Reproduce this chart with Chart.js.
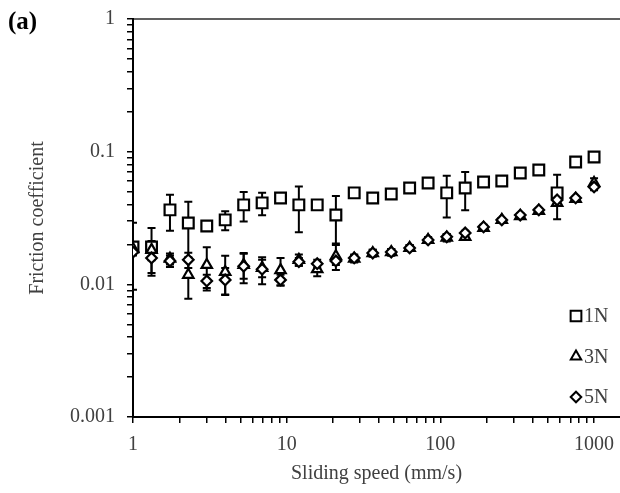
<!DOCTYPE html>
<html>
<head>
<meta charset="utf-8">
<script src="https://cdn.jsdelivr.net/npm/chart.js@4"></script>
<style>
  html, body { margin: 0; padding: 0; background: #fff; }
</style>
</head>
<body>
<canvas id="frictionChart" width="620" height="493"></canvas>
<script>
  // sliding speeds (mm/s)
  const speeds = [1, 1.32, 1.74, 2.29, 3.02, 3.98, 5.25, 6.92, 9.12, 12.0, 15.8, 20.9, 27.5,
                  36.3, 47.9, 63.1, 83.2, 110, 145, 191, 251, 331, 437, 575, 759, 1000];

  // friction coefficient, 1N load
  const cof1N = [0.0191, 0.0191, 0.0364, 0.0290, 0.0275, 0.0306, 0.0397, 0.0411, 0.0448, 0.0397, 0.0397, 0.0333, 0.0489,
                 0.0448, 0.0480, 0.0532, 0.0581, 0.0489, 0.0532, 0.0591, 0.0601, 0.0691, 0.0728, 0.0489, 0.0836, 0.0912];
  const err1N = [0.010, 0.0075, 0.011, 0.013, 0.002, 0.005, 0.010, 0.008, 0, 0.015, 0, 0.013, 0,
                 0, 0, 0.002, 0, 0.017, 0.017, 0, 0, 0, 0, 0.018, 0, 0.004];

  // 3N load
  const cof3N = [0.0185, 0.0182, 0.0156, 0.0118, 0.0140, 0.0124, 0.0140, 0.0133, 0.0128, 0.0153, 0.0130, 0.0163, 0.0156,
                 0.0172, 0.0175, 0.0188, 0.0216, 0.0225, 0.0228, 0.0266, 0.0306, 0.0327, 0.0358, 0.0411, 0.0441, 0.0581];
  const err3N = [0.001, 0.003, 0.0015, 0.004, 0.005, 0.004, 0.003, 0.002, 0.003, 0.0015, 0.0015, 0.0035, 0.001,
                 0.001, 0.001, 0.001, 0.001, 0.0015, 0.001, 0.001, 0.001, 0.001, 0.001, 0.002, 0.001, 0.005];

  // 5N load
  const cof5N = [0.0175, 0.0158, 0.0150, 0.0153, 0.0106, 0.0108, 0.0137, 0.0130, 0.0108, 0.0148, 0.0143, 0.0150, 0.0158,
                 0.0172, 0.0175, 0.0188, 0.0216, 0.0228, 0.0244, 0.0271, 0.0306, 0.0333, 0.0364, 0.0433, 0.0448, 0.0542];
  const err5N = [0.001, 0.0036, 0.0015, 0.002, 0.0012, 0.0025, 0.0035, 0.003, 0.001, 0.001, 0.001, 0.001, 0.001,
                 0.001, 0.001, 0.001, 0.001, 0.001, 0.001, 0.001, 0.001, 0.001, 0.001, 0.002, 0.001, 0.003];

  const xTickLabels = ['1', '10', '100', '1000'];
  const yTickLabels = ['0.001', '0.01', '0.1', '1'];

  const serif = 'Liberation Serif, Times New Roman, serif';
  const textColor = '#404040';

  // major ticks from the labels, minor ticks 2..9 inside each decade
  function logTicks(labels) {
    const ticks = [];
    labels.forEach((lab, i) => {
      const v = Number(lab);
      ticks.push({ value: v });
      if (i < labels.length - 1) {
        for (let k = 2; k <= 9; k++) ticks.push({ value: Number((v * k).toPrecision(3)) });
      }
    });
    return ticks;
  }

  const series = [
    { label: '1N', values: cof1N, errors: err1N, style: 'rect', radius: 7.6, order: 3 },
    { label: '3N', values: cof3N, errors: err3N, style: 'triangle', radius: 6, order: 2 },
    { label: '5N', values: cof5N, errors: err5N, style: 'rectRot', radius: 5.3, order: 1 }
  ];

  // error bars go under the markers (markers are white filled)
  const errorBars = {
    id: 'errorBars',
    beforeDatasetsDraw(chart) {
      const { ctx, chartArea, scales: { x, y } } = chart;
      ctx.save();
      ctx.beginPath();
      ctx.rect(chartArea.left, chartArea.top, chartArea.right - chartArea.left, chartArea.bottom - chartArea.top);
      ctx.clip();
      ctx.strokeStyle = '#000';
      ctx.lineWidth = 2;
      chart.data.datasets.forEach(ds => {
        ds.data.forEach((p, i) => {
          const e = ds.errors[i];
          if (!e) return;
          const px = x.getPixelForValue(p.x);
          const top = y.getPixelForValue(p.y + e);
          const bot = y.getPixelForValue(Math.max(p.y - e, 0.0011));
          ctx.beginPath();
          ctx.moveTo(px, top); ctx.lineTo(px, bot);
          ctx.moveTo(px - 4, top); ctx.lineTo(px + 4, top);
          ctx.moveTo(px - 4, bot); ctx.lineTo(px + 4, bot);
          ctx.stroke();
        });
      });
      ctx.restore();
    }
  };

  // legend inside the plot, lower right, plus the panel label
  const extras = {
    id: 'extras',
    afterDraw(chart) {
      const { ctx, chartArea } = chart;
      ctx.save();
      chart.data.datasets.forEach((ds, i) => {
        const mx = chartArea.right - 44;
        const my = chartArea.bottom - 101 + i * 40.5;
        ctx.fillStyle = '#fff';
        ctx.strokeStyle = '#000';
        ctx.lineWidth = 2;
        Chart.helpers.drawPoint(ctx, { pointStyle: ds.pointStyle, radius: ds.pointRadius, borderWidth: 2, rotation: 0 }, mx, my);
        ctx.fillStyle = textColor;
        ctx.font = '20px ' + serif;
        ctx.textBaseline = 'middle';
        ctx.textAlign = 'left';
        ctx.fillText(ds.label, mx + 8, my + 1);
      });
      ctx.fillStyle = '#000';
      ctx.font = 'bold 25px ' + serif;
      ctx.textBaseline = 'alphabetic';
      ctx.fillText('(a)', 8, 29);
      ctx.restore();
    }
  };

  const ctx = document.getElementById('frictionChart').getContext('2d');
  new Chart(ctx, {
    type: 'scatter',
    data: {
      datasets: series.map(s => ({
        label: s.label,
        data: speeds.map((v, i) => ({ x: v, y: s.values[i] })),
        errors: s.errors,
        pointStyle: s.style,
        pointRadius: s.radius,
        pointHoverRadius: s.radius,
        backgroundColor: '#fff',
        borderColor: '#000',
        borderWidth: 2.2,
        showLine: false,
        order: s.order
      }))
    },
    options: {
      responsive: false,
      animation: false,
      layout: { autoPadding: false, padding: { top: 19, left: 0, right: 0, bottom: 0 } },
      plugins: {
        legend: { display: false },
        tooltip: { enabled: false }
      },
      scales: {
        x: {
          type: 'logarithmic',
          position: 'bottom',
          min: 1,
          max: 1475,
          afterBuildTicks: s => { s.ticks = logTicks(xTickLabels); },
          afterFit: s => { s.height = 76; s.paddingLeft = 0; s.paddingRight = 0; },
          ticks: {
            autoSkip: false, maxRotation: 0, padding: 10, color: textColor,
            font: { family: serif, size: 20 },
            callback: v => xTickLabels.includes(String(v)) ? String(v) : ''
          },
          grid: { drawOnChartArea: false, drawTicks: true, tickLength: 6, color: '#000', lineWidth: 1.5 },
          border: { color: '#000', width: 2 },
          title: {
            display: true, text: 'Sliding speed (mm/s)', color: textColor,
            font: { family: serif, size: 20 }, padding: { top: 0, bottom: 7 }
          }
        },
        xTop: {
          type: 'logarithmic',
          position: 'top',
          min: 1,
          max: 1475,
          ticks: { display: false },
          grid: { display: false, drawTicks: false },
          border: { color: '#606060', width: 2 },
          afterFit: s => { s.height = 0; s.paddingLeft = 0; s.paddingRight = 0; }
        },
        y: {
          type: 'logarithmic',
          min: 0.001,
          max: 1,
          afterBuildTicks: s => { s.ticks = logTicks(yTickLabels); },
          afterFit: s => { s.width = 133; s.paddingTop = 0; s.paddingBottom = 0; },
          ticks: {
            autoSkip: false, padding: 12, color: textColor,
            font: { family: serif, size: 20 },
            callback: v => yTickLabels.includes(String(v)) ? String(v) : ''
          },
          grid: { drawOnChartArea: false, drawTicks: true, tickLength: 6, color: '#000', lineWidth: 1.5 },
          border: { color: '#000', width: 2 },
          title: {
            display: true, text: 'Friction coefficient', color: textColor,
            font: { family: serif, size: 20 }, padding: { top: 26, bottom: 0 }
          }
        }
      }
    },
    plugins: [errorBars, extras]
  });
</script>
</body>
</html>
